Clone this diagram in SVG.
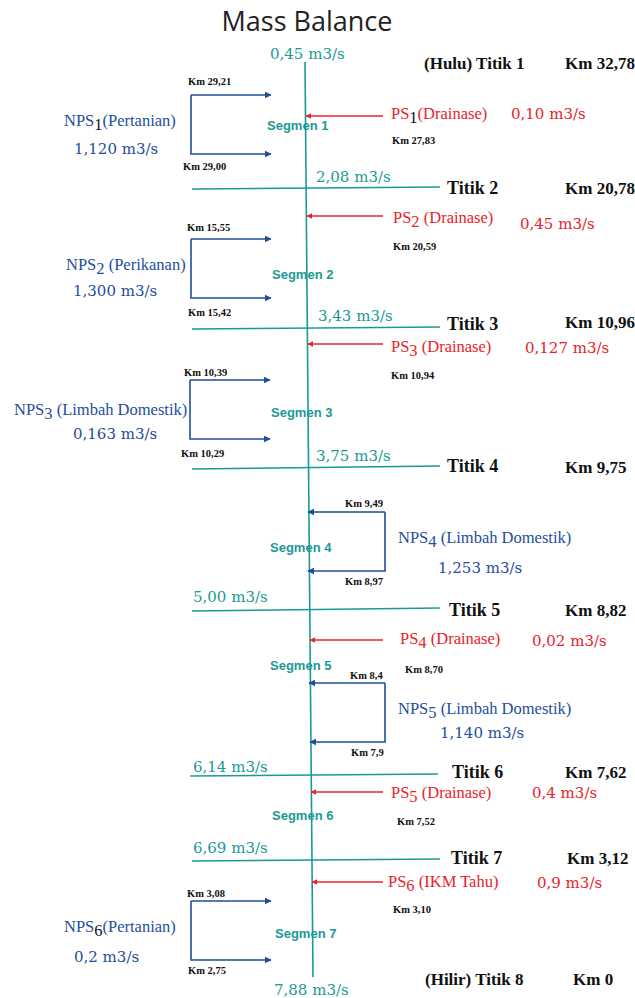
<svg xmlns="http://www.w3.org/2000/svg" width="635" height="998" viewBox="0 0 635 998">
<defs>
<marker id="ab" viewBox="0 0 10 10" refX="9" refY="5" markerWidth="7" markerHeight="7" markerUnits="userSpaceOnUse" orient="auto"><path d="M0,0 L10,5 L0,10 z" fill="#1f4e9c"/></marker>
<marker id="ar" viewBox="0 0 10 10" refX="9" refY="5" markerWidth="6" markerHeight="6" markerUnits="userSpaceOnUse" orient="auto"><path d="M0,0 L10,5 L0,10 z" fill="#e8232a"/></marker>
<style>
.t{fill:#1a9a96;font-family:"DejaVu Serif",serif;font-size:15px}
.seg{fill:#1a9a96;font-family:"Liberation Sans",sans-serif;font-weight:bold;font-size:13px}
.k{fill:#111;font-family:"Liberation Serif",serif;font-weight:bold;font-size:10.5px}
.K{fill:#111;font-family:"Liberation Serif",serif;font-weight:bold;font-size:17px}
.ti{fill:#111;font-family:"Liberation Serif",serif;font-weight:bold;font-size:18px}
.b{fill:#1f4e9c;font-family:"Liberation Serif",serif;font-size:16.5px}
.bv{fill:#1f4e9c;font-family:"DejaVu Serif",serif;font-size:15px}
.r{fill:#e8232a;font-family:"Liberation Serif",serif;font-size:16.5px}
.rv{fill:#e8232a;font-family:"DejaVu Serif",serif;font-size:15px}
.sd{fill:#111}
.river{stroke:#1a9a96;stroke-width:1.6;fill:none}
.bl{stroke:#1f4e9c;stroke-width:1.6;fill:none}
.rd{stroke:#e8232a;stroke-width:1.6;fill:none}
</style>
</defs>
<rect width="635" height="998" fill="#fff"/>
<text x="307" y="31" text-anchor="middle" font-family="Open Sans,sans-serif" font-size="27" fill="#222">Mass Balance</text>

<g id="connectors">
<line class="river" x1="305" y1="62" x2="313" y2="977"/>
<line class="river" x1="192" y1="189" x2="440" y2="187"/>
<line class="river" x1="192" y1="329" x2="440" y2="327"/>
<line class="river" x1="192" y1="469" x2="440" y2="466"/>
<line class="river" x1="192" y1="611" x2="440" y2="608"/>
<line class="river" x1="190" y1="776" x2="438" y2="774"/>
<line class="river" x1="192" y1="861" x2="440" y2="859"/>
<line class="rd" x1="383" y1="116" x2="306" y2="116" marker-end="url(#ar)"/>
<line class="rd" x1="383" y1="216" x2="307" y2="216" marker-end="url(#ar)"/>
<line class="rd" x1="383" y1="344" x2="308" y2="344" marker-end="url(#ar)"/>
<line class="rd" x1="383" y1="640" x2="310" y2="640" marker-end="url(#ar)"/>
<line class="rd" x1="383" y1="792" x2="311" y2="792" marker-end="url(#ar)"/>
<line class="rd" x1="383" y1="882" x2="312" y2="882" marker-end="url(#ar)"/>
<path class="bl" d="M191,95 H271" marker-end="url(#ab)"/>
<path class="bl" d="M191,95 V154 H271" marker-end="url(#ab)"/>
<path class="bl" d="M191,239 H271" marker-end="url(#ab)"/>
<path class="bl" d="M191,239 V298 H271" marker-end="url(#ab)"/>
<path class="bl" d="M190,380 H270" marker-end="url(#ab)"/>
<path class="bl" d="M190,380 V439 H270" marker-end="url(#ab)"/>
<path class="bl" d="M385,512 H308" marker-end="url(#ab)"/>
<path class="bl" d="M385,512 V571 H308" marker-end="url(#ab)"/>
<path class="bl" d="M385,683 H309" marker-end="url(#ab)"/>
<path class="bl" d="M385,683 V742 H310" marker-end="url(#ab)"/>
<path class="bl" d="M191,901 H271" marker-end="url(#ab)"/>
<path class="bl" d="M191,901 V960 H271" marker-end="url(#ab)"/>
</g>

<g id="titik1"><text class="t" x="270" y="59">0,45 m3/s</text><text class="K" x="424" y="69">(Hulu) Titik 1</text><text class="K" x="565" y="69">Km 32,78</text></g>
<g id="nps1"><text class="k" x="188" y="85">Km 29,21</text><text class="k" x="183" y="170">Km 29,00</text><text class="b" x="64" y="126">NPS<tspan class="sd" dy="4">1</tspan><tspan dy="-4">(Pertanian)</tspan></text><text class="bv" x="74" y="154">1,120 m3/s</text></g>
<g id="segmen1"><text class="seg" x="267" y="130">Segmen 1</text></g>
<g id="ps1"><text class="r" x="391" y="119">PS<tspan class="sd" dy="4">1</tspan><tspan dy="-4">(Drainase)</tspan></text><text class="rv" x="511" y="119">0,10 m3/s</text><text class="k" x="392" y="144">Km 27,83</text></g>

<g id="titik2"><text class="t" x="316" y="182">2,08 m3/s</text><text class="ti" x="447" y="194">Titik 2</text><text class="K" x="565" y="194">Km 20,78</text></g>
<g id="ps2"><text class="r" x="393" y="223">PS<tspan dy="4">2</tspan><tspan dy="-4"> (Drainase)</tspan></text><text class="rv" x="520" y="229">0,45 m3/s</text><text class="k" x="393" y="250">Km 20,59</text></g>
<g id="nps2"><text class="k" x="187" y="231">Km 15,55</text><text class="k" x="188" y="316">Km 15,42</text><text class="b" x="66" y="270">NPS<tspan dy="4">2</tspan><tspan dy="-4"> (Perikanan)</tspan></text><text class="bv" x="73" y="296">1,300 m3/s</text></g>
<g id="segmen2"><text class="seg" x="272" y="279">Segmen 2</text></g>

<g id="titik3"><text class="t" x="318" y="321">3,43 m3/s</text><text class="ti" x="447" y="330">Titik 3</text><text class="K" x="565" y="328">Km 10,96</text></g>
<g id="ps3"><text class="r" x="391" y="352">PS<tspan dy="4">3</tspan><tspan dy="-4"> (Drainase)</tspan></text><text class="rv" x="525" y="353">0,127 m3/s</text><text class="k" x="391" y="379">Km 10,94</text></g>
<g id="nps3"><text class="k" x="184" y="376">Km 10,39</text><text class="k" x="181" y="457">Km 10,29</text><text class="b" x="14" y="415">NPS<tspan dy="4">3</tspan><tspan dy="-4"> (Limbah Domestik)</tspan></text><text class="bv" x="73" y="439">0,163 m3/s</text></g>
<g id="segmen3"><text class="seg" x="271" y="417">Segmen 3</text></g>

<g id="titik4"><text class="t" x="316" y="461">3,75 m3/s</text><text class="ti" x="447" y="472">Titik 4</text><text class="K" x="565" y="473">Km 9,75</text></g>
<g id="nps4"><text class="k" x="345" y="507">Km 9,49</text><text class="k" x="345" y="585">Km 8,97</text><text class="b" x="398" y="543">NPS<tspan dy="4">4</tspan><tspan dy="-4"> (Limbah Domestik)</tspan></text><text class="bv" x="438" y="573">1,253 m3/s</text></g>
<g id="segmen4"><text class="seg" x="270" y="552">Segmen 4</text></g>

<g id="titik5"><text class="t" x="193" y="602">5,00 m3/s</text><text class="ti" x="449" y="616">Titik 5</text><text class="K" x="565" y="616">Km 8,82</text></g>
<g id="ps4"><text class="r" x="400" y="644">PS<tspan dy="4">4</tspan><tspan dy="-4"> (Drainase)</tspan></text><text class="rv" x="532" y="646">0,02 m3/s</text><text class="k" x="405" y="673">Km 8,70</text></g>
<g id="segmen5"><text class="seg" x="270" y="670">Segmen 5</text></g>
<g id="nps5"><text class="k" x="350" y="679">Km 8,4</text><text class="k" x="351" y="756">Km 7,9</text><text class="b" x="398" y="714">NPS<tspan dy="4">5</tspan><tspan dy="-4"> (Limbah Domestik)</tspan></text><text class="bv" x="440" y="738">1,140 m3/s</text></g>

<g id="titik6"><text class="t" x="193" y="772">6,14 m3/s</text><text class="ti" x="452" y="778">Titik 6</text><text class="K" x="565" y="778">Km 7,62</text></g>
<g id="ps5"><text class="r" x="391" y="798">PS<tspan dy="4">5</tspan><tspan dy="-4"> (Drainase)</tspan></text><text class="rv" x="532" y="798">0,4 m3/s</text><text class="k" x="397" y="825">Km 7,52</text></g>
<g id="segmen6"><text class="seg" x="272" y="820">Segmen 6</text></g>

<g id="titik7"><text class="t" x="193" y="853">6,69 m3/s</text><text class="ti" x="451" y="864">Titik 7</text><text class="K" x="567" y="864">Km 3,12</text></g>
<g id="ps6"><text class="r" x="388" y="887">PS<tspan dy="4">6</tspan><tspan dy="-4"> (IKM Tahu)</tspan></text><text class="rv" x="537" y="888">0,9 m3/s</text><text class="k" x="393" y="913">Km 3,10</text></g>
<g id="nps6"><text class="k" x="187" y="897">Km 3,08</text><text class="k" x="188" y="974">Km 2,75</text><text class="b" x="64" y="932">NPS<tspan class="sd" dy="4">6</tspan><tspan dy="-4">(Pertanian)</tspan></text><text class="bv" x="74" y="962">0,2 m3/s</text></g>
<g id="segmen7"><text class="seg" x="275" y="938">Segmen 7</text></g>

<g id="titik8"><text class="K" x="425" y="985">(Hilir) Titik 8</text><text class="K" x="573" y="985">Km 0</text><text class="t" x="274" y="995">7,88 m3/s</text></g>
</svg>
